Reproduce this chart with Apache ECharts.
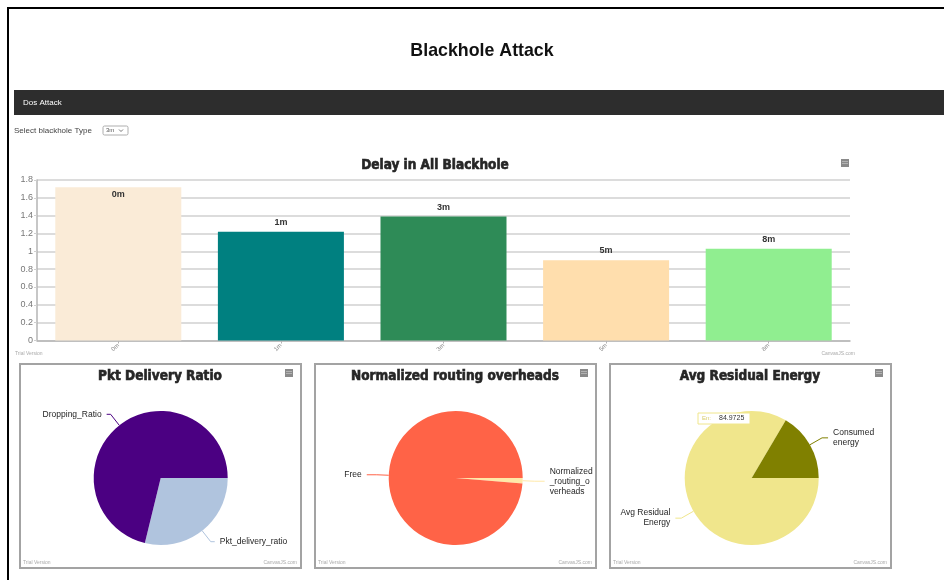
<!DOCTYPE html>
<html>
<head>
<meta charset="utf-8">
<title>Blackhole Attack</title>
<script src="https://cdn.jsdelivr.net/npm/echarts@6/dist/echarts.min.js"></script>
<style>
  html, body { margin: 0; padding: 0; background: #ffffff; }
  #main { width: 944px; height: 580px; }
</style>
</head>
<body>
<div id="main"></div>
<script>
// ---- page text ----
const pageTitle = 'Blackhole Attack';
const navLabel = 'Dos Attack';
const selectLabel = 'Select blackhole Type';
const selectValue = '3m';
const trialText = 'Trial Version';
const brandText = 'CanvasJS.com';

// ---- delay bar chart ----
const delayTitle = 'Delay in All Blackhole';
const delayCategories = ['0m', '1m', '3m', '5m', '8m'];
const delayValues = [1.72, 1.22, 1.39, 0.90, 1.03];
const delayColors = ['#FAEBD7', '#008080', '#2E8B57', '#FFDEAD', '#90EE90'];
const delayAxisMax = 1.8;
const delayAxisStep = 0.2;

// ---- packet delivery ratio pie ----
const pdrTitle = 'Pkt Delivery Ratio';
const pdrNames = ['Pkt_delivery_ratio', 'Dropping_Ratio'];
const pdrValues = [28.8, 71.2];
const pdrColors = ['#B0C4DE', '#4B0082'];

// ---- normalized routing overhead pie ----
const nroTitle = 'Normalized routing overheads';
const nroNames = ['Normalized_routing_overheads', 'Free'];
const nroValues = [1.3, 98.7];
const nroColors = ['#FFE9A8', '#FF6347'];

// ---- residual energy pie ----
const energyTitle = 'Avg Residual Energy';
const energyNames = ['Avg Residual Energy', 'Consumed energy'];
const energyValues = [84.9725, 16.8];
const energyColors = ['#F0E68C', '#808000'];
const energyTipShort = 'En:';

// wrap a label: break at spaces, hard-cut words longer than the limit
function wrapLabel(text, maxChars) {
  if (!maxChars) return text;
  const lines = [];
  let line = '';
  text.split(' ').forEach(function (word) {
    while (word.length > maxChars) {
      if (line) { lines.push(line); line = ''; }
      lines.push(word.slice(0, maxChars));
      word = word.slice(maxChars);
    }
    if (!line) line = word;
    else if ((line + ' ' + word).length <= maxChars) line += ' ' + word;
    else { lines.push(line); line = word; }
  });
  if (line) lines.push(line);
  return lines.join('\n');
}

const chart = echarts.init(document.getElementById('main'), null, { renderer: 'canvas' });

const titleFont = 'DejaVu Sans Condensed';
const bodyFont = 'Liberation Sans, Arial, sans-serif';

// panel boxes for the three pies
const panels = [
  { x: 20, title: pdrTitle },
  { x: 315, title: nroTitle },
  { x: 610, title: energyTitle }
];
const panelY = 364, panelW = 281, panelH = 204;

function menuIcon(x, y) {
  return {
    type: 'group', x: x, y: y, silent: true,
    children: [
      { type: 'rect', shape: { x: 0, y: 0, width: 8, height: 8 }, style: { fill: '#8a8a8a' } },
      { type: 'line', shape: { x1: 1, y1: 2.5, x2: 7, y2: 2.5 }, style: { stroke: '#bdbdbd', lineWidth: 0.8 } },
      { type: 'line', shape: { x1: 1, y1: 4.5, x2: 7, y2: 4.5 }, style: { stroke: '#bdbdbd', lineWidth: 0.8 } }
    ]
  };
}

function chartTitle(cx, cy, text) {
  return {
    type: 'text', x: cx, y: cy, silent: true,
    style: {
      text: text, fill: '#262626', stroke: '#262626', lineWidth: 0.6,
      align: 'center', verticalAlign: 'middle',
      font: 'bold 13.5px ' + titleFont
    }
  };
}

function smallNote(x, y, text, align) {
  return {
    type: 'text', x: x, y: y, silent: true,
    style: { text: text, fill: '#aaaaaa', align: align, verticalAlign: 'middle', font: '5px ' + bodyFont }
  };
}

const graphics = [
  // page frame
  { type: 'line', shape: { x1: 8, y1: 8, x2: 944, y2: 8 }, style: { stroke: '#000', lineWidth: 2 } },
  { type: 'line', shape: { x1: 8, y1: 7, x2: 8, y2: 580 }, style: { stroke: '#000', lineWidth: 2 } },
  // page heading
  { type: 'text', x: 482, y: 51, style: { text: pageTitle, fill: '#111', align: 'center', verticalAlign: 'middle', font: 'bold 17.8px ' + bodyFont } },
  // navigation bar
  { type: 'rect', shape: { x: 14, y: 90, width: 930, height: 25 }, style: { fill: '#2d2d2d' } },
  { type: 'text', x: 23, y: 102.5, style: { text: navLabel, fill: '#ffffff', align: 'left', verticalAlign: 'middle', font: '8px ' + bodyFont } },
  // selector
  { type: 'text', x: 14, y: 130.5, style: { text: selectLabel, fill: '#444', align: 'left', verticalAlign: 'middle', font: '8px ' + bodyFont } },
  { type: 'rect', shape: { x: 103, y: 126, width: 25, height: 9, r: 1.5 }, style: { fill: '#fff', stroke: '#9a9a9a', lineWidth: 0.8 } },
  { type: 'text', x: 106, y: 130.5, style: { text: selectValue, fill: '#555', align: 'left', verticalAlign: 'middle', font: '6px ' + bodyFont } },
  { type: 'polyline', shape: { points: [[119, 129.5], [121, 131.5], [123, 129.5]] }, style: { stroke: '#555', lineWidth: 0.8, fill: null } },
  // bar chart decorations
  chartTitle(435, 165, delayTitle),
  menuIcon(841, 159),
  smallNote(15, 354, trialText, 'left'),
  smallNote(855, 354, brandText, 'right')
];

panels.forEach(function (p) {
  graphics.push({ type: 'rect', shape: { x: p.x, y: panelY, width: panelW, height: panelH }, style: { fill: null, stroke: '#a3a3a3', lineWidth: 2 } });
  graphics.push(chartTitle(p.x + 140, panelY + 12, p.title));
  graphics.push(menuIcon(p.x + 265, panelY + 5));
  graphics.push(smallNote(p.x + 3, panelY + panelH - 5, trialText, 'left'));
  graphics.push(smallNote(p.x + panelW - 4, panelY + panelH - 5, brandText, 'right'));
});

// hover note over the residual energy slice, built from its value
graphics.push({
  type: 'group', x: 698, y: 413, z: 200, silent: true,
  children: [
    { type: 'rect', z: 200, shape: { x: 0, y: 0, width: 52, height: 11 }, style: { fill: '#ffffff', stroke: energyColors[0], lineWidth: 1 } },
    { type: 'text', z: 201, x: 4, y: 5.5, style: { text: energyTipShort, fill: '#d8cc6a', align: 'left', verticalAlign: 'middle', font: '6px ' + bodyFont } },
    { type: 'text', z: 201, x: 21, y: 5.5, style: { text: String(energyValues[0]), fill: '#333', align: 'left', verticalAlign: 'middle', font: '7px ' + bodyFont } }
  ]
});

function pieSeries(cx, names, values, colors, wrapChars, len, len2) {
  return {
    type: 'pie',
    center: [cx, 478],
    radius: 67,
    startAngle: 0,
    clockwise: true,
    silent: true,
    avoidLabelOverlap: false,
    data: names.map(function (n, i) {
      return { name: n, value: values[i], itemStyle: { color: colors[i] } };
    }),
    label: {
      show: true,
      position: 'outside',
      color: '#1e1e1e',
      fontSize: 8.5,
      fontFamily: bodyFont,
      lineHeight: 10,
      formatter: function (p) { return wrapLabel(p.name, wrapChars); }
    },
    labelLine: { show: true, length: len, length2: len2, lineStyle: { width: 1 } }
  };
}

const option = {
  animation: false,
  backgroundColor: '#ffffff',
  textStyle: { fontFamily: bodyFont },
  graphic: graphics,
  grid: { left: 37, right: 94, top: 180, bottom: 239.5, containLabel: false },
  xAxis: {
    type: 'category',
    data: delayCategories,
    axisLine: { lineStyle: { color: '#b5b5b5', width: 1.5 } },
    axisTick: { show: true, alignWithLabel: true, length: 3, lineStyle: { color: '#b5b5b5' } },
    axisLabel: { rotate: 45, fontSize: 6, color: '#888', margin: 4 }
  },
  yAxis: {
    type: 'value',
    min: 0,
    max: delayAxisMax,
    interval: delayAxisStep,
    axisLine: { show: true, lineStyle: { color: '#b5b5b5', width: 1.5 } },
    axisTick: { show: true, length: 3, lineStyle: { color: '#cfcfcf' } },
    axisLabel: { fontSize: 9, color: '#777', margin: 4, formatter: function (v) { return String(+v.toFixed(1)); } },
    splitLine: { lineStyle: { color: '#dcdcdc', width: 2 } }
  },
  series: [
    {
      type: 'bar',
      barWidth: '77.5%',
      silent: true,
      data: delayValues.map(function (v, i) {
        return {
          value: v,
          itemStyle: { color: delayColors[i] },
          label: i === 0 ? { position: 'insideTop', distance: 3 } : undefined
        };
      }),
      label: {
        show: true,
        position: 'top',
        distance: 5,
        fontSize: 9,
        fontWeight: 'bold',
        color: '#333',
        formatter: function (p) { return p.name; }
      }
    },
    pieSeries(160.7, pdrNames, pdrValues, pdrColors, 0, 14, 4),
    pieSeries(455.7, nroNames, nroValues, nroColors, 10, 12, 10),
    pieSeries(751.7, energyNames, energyValues, energyColors, 12, 14, 6)
  ]
};

chart.setOption(option);
</script>
</body>
</html>
